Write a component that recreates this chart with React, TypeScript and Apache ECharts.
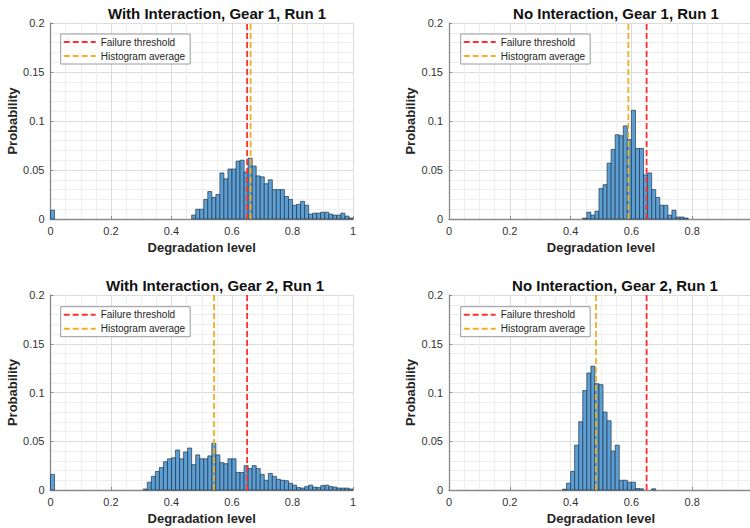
import React, { useEffect, useRef } from "react";
import * as echarts from "echarts";

const FONT = '"Liberation Sans", Arial, Helvetica, sans-serif';

// Histogram bin width (degradation level units)
const BIN_WIDTH = 1 / 75;

// Panel titles
const TITLES = [
  "With Interaction, Gear 1, Run 1",
  "No Interaction, Gear 1, Run 1",
  "With Interaction, Gear 2, Run 1",
  "No Interaction, Gear 2, Run 1",
];

const FAILURE_THRESHOLD = [0.65, 0.65, 0.65, 0.65];
const HISTOGRAM_AVERAGE = [0.6615, 0.59, 0.5407, 0.4835];

// Probability of the first bin (0 .. BIN_WIDTH)
const ZERO_BIN = [0.009, 0, 0.016, 0];

// First non-empty bin index (k -> k*BIN_WIDTH) and probabilities that follow
const START_BIN = [35, 33, 23, 28];

const WITH_G1 = [
  0.004, 0.01, 0.01, 0.02, 0.028, 0.022, 0.025, 0.047, 0.041, 0.051,
  0.051, 0.059, 0.06, 0.048, 0.062, 0.054, 0.044, 0.043, 0.036, 0.04,
  0.03, 0.03, 0.03, 0.023, 0.02, 0.014, 0.015, 0.018, 0.014, 0.005,
  0.006, 0.006, 0.007, 0.007, 0.005, 0.004, 0.004, 0.006, 0.003, 0.001,
];

const NO_G1 = [
  0.001, 0.007, 0.004, 0.008, 0.031, 0.035, 0.057, 0.071, 0.086, 0.085,
  0.095, 0.081, 0.111, 0.072, 0.072, 0.045, 0.047, 0.03, 0.022, 0.014,
  0.014, 0.004, 0.009, 0.002, 0.002, 0.001,
];

const WITH_G2 = [
  0.001, 0.008, 0.014, 0.019, 0.023, 0.029, 0.032, 0.033, 0.041, 0.032,
  0.039, 0.043, 0.026, 0.036, 0.032, 0.032, 0.035, 0.048, 0.036, 0.028,
  0.027, 0.032, 0.032, 0.018, 0.018, 0.025, 0.022, 0.025, 0.022, 0.016,
  0.01, 0.017, 0.014, 0.011, 0.01, 0.0095, 0.007, 0.005, 0.0025, 0.002,
  0.0035, 0.005, 0.003, 0.0025, 0.0045, 0.005, 0.0035, 0.003, 0.002, 0.002,
  0.002, 0.001,
];

const NO_G2 = [
  0.0008, 0.007, 0.019, 0.046, 0.07, 0.102, 0.12, 0.127, 0.109, 0.108,
  0.08, 0.071, 0.04, 0.046, 0.01, 0.01, 0.008, 0.008, 0.0015, 0.0012,
  0, 0, 0.0012,
];

const VALUES = [WITH_G1, NO_G1, WITH_G2, NO_G2];

const X_LABEL = "Degradation level";
const Y_LABEL = "Probability";
const LEGEND_ITEMS = ["Failure threshold", "Histogram average"];

const BAR_FILL = "#5b9fd4";
const BAR_EDGE = "#23364a";
const RED = "#ff3030";
const YELLOW = "#efb022";

const GRIDS = [
  { left: 50.5, top: 23, width: 302.5, height: 196 },
  { left: 449, top: 23, width: 304, height: 196 },
  { left: 50.5, top: 295, width: 302.5, height: 195 },
  { left: 449, top: 295, width: 304, height: 195 },
];
const TITLE_POS = [
  { x: 217, y: 6 },
  { x: 616, y: 6 },
  { x: 215, y: 278 },
  { x: 615, y: 278 },
];
const LEGEND_POS = [
  { x: 60.7, y: 34 },
  { x: 460.7, y: 34 },
  { x: 60.7, y: 306.7 },
  { x: 460.7, y: 306.7 },
];

function binData(i: number) {
  const out: number[][] = [];
  if (ZERO_BIN[i] > 0) out.push([0, BIN_WIDTH, ZERO_BIN[i]]);
  VALUES[i].forEach((v, j) => {
    const k = START_BIN[i] + j;
    out.push([k * BIN_WIDTH, (k + 1) * BIN_WIDTH, v]);
  });
  return out;
}

export default function App() {
  const ref = useRef<HTMLDivElement>(null);
  useEffect(() => {
    if (!ref.current) return;
    const chart = echarts.init(ref.current, undefined, { renderer: "svg" });

    const xAxes = GRIDS.map((_, i) => ({
      type: "value",
      gridIndex: i,
      min: 0,
      max: 1,
      interval: 0.2,
      name: X_LABEL,
      nameLocation: "middle",
      nameGap: 22,
      nameTextStyle: { fontFamily: FONT, fontSize: 13, fontWeight: "bold", color: "#262626" },
      axisLine: { show: true, onZero: false, lineStyle: { color: "#8a8a8a", width: 1.3 } },
      axisTick: { show: true, inside: true, length: 3, lineStyle: { color: "#8a8a8a" } },
      axisLabel: { fontFamily: FONT, fontSize: 11, color: "#333333", margin: 6 },
      splitLine: { show: true, lineStyle: { color: "#dcdcdc", width: 1 } },
      minorTick: { show: false, splitNumber: 4 },
      minorSplitLine: { show: true, lineStyle: { color: "#eeeeee", width: 1 } },
    }));
    const yAxes = GRIDS.map((_, i) => ({
      type: "value",
      gridIndex: i,
      min: 0,
      max: 0.2,
      interval: 0.05,
      name: Y_LABEL,
      nameLocation: "middle",
      nameGap: 32,
      nameTextStyle: { fontFamily: FONT, fontSize: 13, fontWeight: "bold", color: "#262626" },
      axisLine: { show: true, onZero: false, lineStyle: { color: "#8a8a8a", width: 1.3 } },
      axisTick: { show: true, inside: true, length: 3, lineStyle: { color: "#8a8a8a" } },
      axisLabel: { fontFamily: FONT, fontSize: 11, color: "#333333", margin: 6 },
      splitLine: { show: true, lineStyle: { color: "#dcdcdc", width: 1 } },
      minorTick: { show: false, splitNumber: 5 },
      minorSplitLine: { show: true, lineStyle: { color: "#eeeeee", width: 1 } },
    }));

    const series: any[] = [];
    GRIDS.forEach((_, i) => {
      series.push({
        type: "custom",
        name: "hist" + i,
        xAxisIndex: i,
        yAxisIndex: i,
        z: 2,
        encode: { x: [0, 1], y: 2 },
        data: binData(i),
        renderItem: (params: any, api: any) => {
          const x0 = api.value(0);
          const x1 = api.value(1);
          const y = api.value(2);
          if (!(y > 0)) return { type: "group", children: [] };
          const a = api.coord([x0, y]);
          const b = api.coord([x1, 0]);
          return {
            type: "rect",
            shape: { x: a[0], y: a[1], width: b[0] - a[0], height: b[1] - a[1] },
            style: { fill: BAR_FILL, stroke: BAR_EDGE, lineWidth: 0.7 },
          };
        },
      });
      series.push({
        type: "line",
        name: LEGEND_ITEMS[0],
        xAxisIndex: i,
        yAxisIndex: i,
        z: 4,
        symbol: "none",
        data: [
          [FAILURE_THRESHOLD[i], 0],
          [FAILURE_THRESHOLD[i], 0.2],
        ],
        lineStyle: { color: RED, width: 1.8, type: [6, 3] },
        itemStyle: { color: RED },
      });
      series.push({
        type: "line",
        name: LEGEND_ITEMS[1],
        xAxisIndex: i,
        yAxisIndex: i,
        z: 3,
        symbol: "none",
        data: [
          [HISTOGRAM_AVERAGE[i], 0],
          [HISTOGRAM_AVERAGE[i], 0.2],
        ],
        lineStyle: { color: YELLOW, width: 1.8, type: [6, 3] },
        itemStyle: { color: YELLOW },
      });
    });

    chart.setOption({
      animation: false,
      backgroundColor: "#ffffff",
      title: TITLES.map((t, i) => ({
        text: t,
        left: TITLE_POS[i].x,
        top: TITLE_POS[i].y,
        textAlign: "center",
        padding: 0,
        textStyle: { fontFamily: FONT, fontSize: 15, fontWeight: "bold", color: "#111111" },
      })),
      legend: LEGEND_POS.map((p) => ({
        data: LEGEND_ITEMS,
        orient: "vertical",
        left: p.x,
        top: p.y,
        padding: [3, 5, 3, 2],
        itemGap: 4,
        itemWidth: 32,
        itemHeight: 10,
        backgroundColor: "#ffffff",
        borderColor: "#9a9a9a",
        borderWidth: 1,
        borderRadius: 0,
        selectedMode: false,
        itemStyle: { opacity: 0 },
        textStyle: { fontFamily: FONT, fontSize: 10, color: "#262626" },
      })),
      grid: GRIDS.map((g) => ({ ...g, containLabel: false, outerBoundsMode: "none" })),
      xAxis: xAxes,
      yAxis: yAxes,
      series,
    });
    return () => chart.dispose();
  }, []);
  return (
    <div
      ref={ref}
      style={{ position: "absolute", left: 0, top: 0, width: 750, height: 528 }}
    />
  );
}
